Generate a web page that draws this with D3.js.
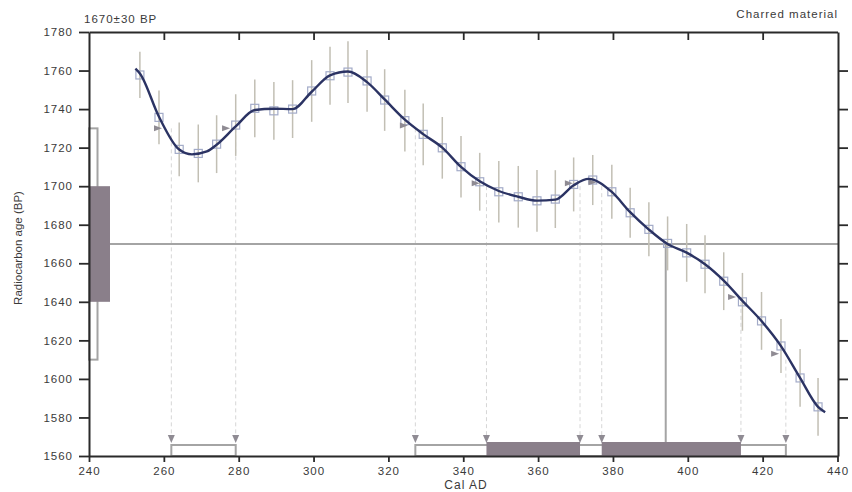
<!DOCTYPE html>
<html>
<head>
<meta charset="utf-8">
<script src="https://cdn.jsdelivr.net/npm/d3@7"></script>
<style>
    body { margin: 0; background: #fff; }
    svg text { font-family: "Liberation Sans", Arial, sans-serif; fill: #3a3a3a; }
    .axis path, .axis line { stroke: #2a2a2a; }
</style>
</head>
<body>
<div id="chart"></div>
<script>
// measured sample
var sampleAge = 1670;
var sampleSigma = 30;
var interceptYear = 394.1;

// calibration curve points (squares with error bars)
var calYears = [253.6, 258.7, 264.1, 269.2, 274.1, 279.2, 284.3, 289.4, 294.4, 299.5,
    304.4, 309.2, 314.3, 319.0, 324.4, 329.3, 334.4, 339.4, 344.4, 349.5,
    354.7, 359.7, 364.6, 369.5, 374.6, 379.7, 384.6, 389.6, 394.6, 399.7,
    404.6, 409.6, 414.6, 419.7, 424.9, 430.0, 434.8];
var calBP = [1757.7, 1735.7, 1719.1, 1717.0, 1721.8, 1731.7, 1740.4, 1739.1, 1740.0, 1749.4,
    1757.3, 1759.2, 1754.6, 1744.7, 1734.0, 1726.9, 1719.9, 1710.1, 1702.3, 1697.1,
    1694.5, 1692.4, 1693.3, 1700.9, 1703.2, 1697.1, 1686.2, 1677.6, 1670.3, 1665.4,
    1659.5, 1650.7, 1640.0, 1630.1, 1617.1, 1600.5, 1585.5];
var calErr = [12, 14, 14, 15, 15, 16, 15, 15, 15, 16,
    15, 16, 16, 16, 16, 16, 16, 16, 15, 16,
    16, 16, 15, 14, 13, 14, 13, 14, 14, 15,
    15, 15, 15, 15, 14, 15, 15];

// smoothed curve as traced on the picture
var curveYears = [252.4, 253.6, 258.7, 264.1, 267.5, 271.5, 274.1, 279.2, 284.3, 289.4,
    294.4, 299.5, 304.4, 309.2, 314.3, 319.0, 324.4, 329.3, 334.4, 339.4,
    344.4, 349.5, 354.7, 359.7, 364.6, 369.5, 373.5, 379.7, 384.6, 389.6,
    394.6, 399.7, 404.6, 409.6, 414.6, 419.7, 424.9, 430.0, 434.8, 436.7];
var curveBP = [1761.0, 1758.5, 1736.0, 1719.0, 1716.5, 1718.0, 1721.5, 1731.0, 1739.5, 1740.2,
    1740.0, 1749.0, 1757.5, 1759.5, 1754.0, 1745.0, 1734.5, 1727.0, 1720.0, 1710.0,
    1702.5, 1697.5, 1694.5, 1692.5, 1693.0, 1700.5, 1703.8, 1697.0, 1686.5, 1677.5,
    1670.0, 1665.5, 1659.5, 1651.0, 1640.5, 1630.0, 1617.0, 1600.5, 1585.5, 1582.7];

// intercept markers on the curve (right pointing)
var markYears = [259.5, 277.7, 325.2, 344.4, 369.3, 375.6, 412.9, 424.4];
var markBP = [1730, 1730, 1731.5, 1701.5, 1701.5, 1702, 1642.5, 1613];

// calibrated ranges on the x axis
var rangeYears = [262.0, 279.2, 327.2, 346.2, 371.2, 377.0, 414.2, 426.2];
var rangeBP = [1730, 1730, 1730, 1700, 1700, 1700, 1640, 1610];
var twoSigma = [[262.0, 279.2], [327.2, 426.2]];
var oneSigma = [[346.2, 371.2], [377.0, 414.2]];

// axis ticks
var xTicks = [240, 260, 280, 300, 320, 340, 360, 380, 400, 420, 440];
var yTicks = [1560, 1580, 1600, 1620, 1640, 1660, 1680, 1700, 1720, 1740, 1760, 1780];

function draw() {
    var W = 852, H = 492;
    var left = 89, right = 838, top = 32, bottom = 456;

    var svg = d3.select("#chart").append("svg")
        .attr("width", W)
        .attr("height", H);

    var x = d3.scaleLinear().domain([240, 440]).range([left, 837.5]);
    var y = d3.scaleLinear().domain([1560, 1780]).range([bottom, top]);

    var gray = "#a4a4a4";
    var boxFill = "#8a7f8a";
    var markFill = "#8f8b93";

    // measured age box on the y axis
    svg.append("rect")
        .attr("x", left)
        .attr("y", y(sampleAge + 2 * sampleSigma))
        .attr("width", 8.5)
        .attr("height", y(sampleAge - 2 * sampleSigma) - y(sampleAge + 2 * sampleSigma))
        .style("fill", "none")
        .style("stroke", gray)
        .style("stroke-width", 2);

    svg.append("rect")
        .attr("x", left)
        .attr("y", y(sampleAge + sampleSigma))
        .attr("width", 21)
        .attr("height", y(sampleAge - sampleSigma) - y(sampleAge + sampleSigma))
        .style("fill", boxFill);

    // dashed drops from curve to the x axis
    svg.selectAll(".drop")
        .data(rangeYears)
        .enter()
        .append("line")
        .attr("class", "drop")
        .attr("x1", function (d) { return x(d); })
        .attr("x2", function (d) { return x(d); })
        .attr("y1", function (d, i) { return y(rangeBP[i]); })
        .attr("y2", bottom - 20)
        .style("stroke", "#d6d6d6")
        .style("stroke-width", 1)
        .style("stroke-dasharray", "4,3");

    // horizontal at measured age and vertical at the intercept
    svg.append("line")
        .attr("x1", left + 21).attr("x2", right)
        .attr("y1", y(sampleAge)).attr("y2", y(sampleAge))
        .style("stroke", gray).style("stroke-width", 2);

    svg.append("line")
        .attr("x1", x(interceptYear)).attr("x2", x(interceptYear))
        .attr("y1", y(sampleAge)).attr("y2", bottom)
        .style("stroke", gray).style("stroke-width", 2);

    // error bars
    svg.selectAll(".err")
        .data(calYears)
        .enter()
        .append("line")
        .attr("class", "err")
        .attr("x1", function (d) { return x(d); })
        .attr("x2", function (d) { return x(d); })
        .attr("y1", function (d, i) { return y(calBP[i] + calErr[i]); })
        .attr("y2", function (d, i) { return y(calBP[i] - calErr[i]); })
        .style("stroke", "#c2bfb4")
        .style("stroke-width", 1.5);

    // squares
    svg.selectAll(".sq")
        .data(calYears)
        .enter()
        .append("rect")
        .attr("class", "sq")
        .attr("x", function (d) { return x(d) - 4; })
        .attr("y", function (d, i) { return y(calBP[i]) - 4; })
        .attr("width", 8)
        .attr("height", 8)
        .style("fill", "none")
        .style("stroke", "#a3abc8")
        .style("stroke-width", 1.2);

    // right pointing markers
    svg.selectAll(".mark")
        .data(markYears)
        .enter()
        .append("path")
        .attr("class", "mark")
        .attr("d", function (d, i) {
            var px = x(d), py = y(markBP[i]);
            return "M" + (px - 8) + "," + (py - 3) + "L" + px + "," + py + "L" + (px - 8) + "," + (py + 3) + "Z";
        })
        .style("fill", markFill);

    // curve
    var line = d3.line()
        .x(function (d) { return x(d); })
        .y(function (d, i) { return y(curveBP[i]); })
        .curve(d3.curveMonotoneX);

    svg.append("path")
        .attr("d", line(curveYears))
        .style("fill", "none")
        .style("stroke", "#2b3363")
        .style("stroke-width", 2.4);

    // calibrated ranges
    svg.selectAll(".two")
        .data(twoSigma)
        .enter()
        .append("rect")
        .attr("class", "two")
        .attr("x", function (d) { return x(d[0]); })
        .attr("y", bottom - 11)
        .attr("width", function (d) { return x(d[1]) - x(d[0]); })
        .attr("height", 11)
        .style("fill", "none")
        .style("stroke", gray)
        .style("stroke-width", 2);

    svg.selectAll(".one")
        .data(oneSigma)
        .enter()
        .append("rect")
        .attr("class", "one")
        .attr("x", function (d) { return x(d[0]); })
        .attr("y", bottom - 14)
        .attr("width", function (d) { return x(d[1]) - x(d[0]); })
        .attr("height", 14)
        .style("fill", boxFill);

    svg.selectAll(".down")
        .data(rangeYears)
        .enter()
        .append("path")
        .attr("class", "down")
        .attr("d", function (d) {
            var px = x(d), py = bottom - 13;
            return "M" + (px - 3.5) + "," + (py - 8) + "L" + (px + 3.5) + "," + (py - 8) + "L" + px + "," + py + "Z";
        })
        .style("fill", markFill);

    // axes
    var axisFont = function (g) {
        g.selectAll("text")
            .style("font-size", "11.5px")
            .style("letter-spacing", "1px")
            .style("fill", "#3a3a3a");
        g.selectAll("line").style("stroke-width", 1.8);
        g.select(".domain").style("stroke-width", 2);
    };

    svg.append("g")
        .attr("class", "x axis")
        .attr("transform", "translate(0," + bottom + ")")
        .call(d3.axisBottom(x).tickValues(xTicks).tickFormat(d3.format("d"))
            .tickSizeInner(6).tickSizeOuter(0).tickPadding(5))
        .call(axisFont);

    svg.append("g")
        .attr("class", "x axis")
        .attr("transform", "translate(0," + top + ")")
        .call(d3.axisBottom(x).tickValues(xTicks.slice(1, -1)).tickSizeInner(8).tickSizeOuter(0).tickFormat(""))
        .call(axisFont);

    svg.append("g")
        .attr("class", "y axis")
        .attr("transform", "translate(" + left + ",0)")
        .call(d3.axisLeft(y).tickValues(yTicks).tickFormat(d3.format("d"))
            .tickSizeInner(10).tickSizeOuter(0).tickPadding(6))
        .call(axisFont);

    svg.append("g")
        .attr("class", "y axis")
        .attr("transform", "translate(" + right + ",0)")
        .call(d3.axisLeft(y).tickValues(yTicks.slice(1, -1)).tickSizeInner(-10).tickSizeOuter(0).tickFormat(""))
        .call(axisFont);

    // labels
    svg.append("text")
        .attr("x", 84).attr("y", 23)
        .style("font-size", "11.5px").style("letter-spacing", "1px")
        .text("1670\u00b130 BP");

    svg.append("text")
        .attr("x", 838).attr("y", 18)
        .style("text-anchor", "end")
        .style("font-size", "11.5px").style("letter-spacing", "1px")
        .text("Charred material");

    svg.append("text")
        .attr("transform", "translate(22,248) rotate(-90)")
        .style("text-anchor", "middle")
        .style("font-size", "11.5px")
        .text("Radiocarbon age (BP)");

    svg.append("text")
        .attr("x", 466).attr("y", 489)
        .style("text-anchor", "middle")
        .style("font-size", "12px").style("letter-spacing", "1px")
        .text("Cal AD");
}

draw();
</script>
</body>
</html>
